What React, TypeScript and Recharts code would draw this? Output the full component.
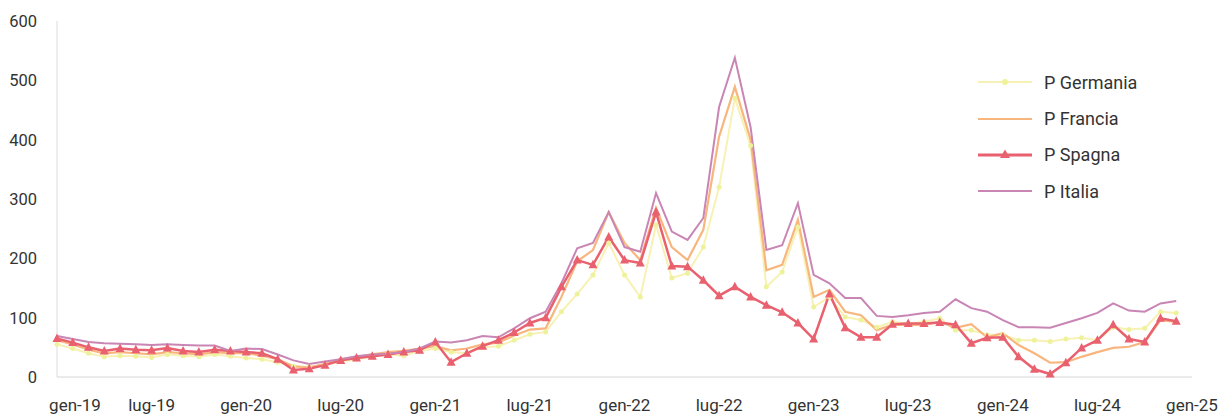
import { Line, LineChart, XAxis, YAxis } from "recharts"

const months = [
  "gen-19", "feb-19", "mar-19", "apr-19", "mag-19", "giu-19", "lug-19", "ago-19", "set-19", "ott-19", "nov-19", "dic-19",
  "gen-20", "feb-20", "mar-20", "apr-20", "mag-20", "giu-20", "lug-20", "ago-20", "set-20", "ott-20", "nov-20", "dic-20",
  "gen-21", "feb-21", "mar-21", "apr-21", "mag-21", "giu-21", "lug-21", "ago-21", "set-21", "ott-21", "nov-21", "dic-21",
  "gen-22", "feb-22", "mar-22", "apr-22", "mag-22", "giu-22", "lug-22", "ago-22", "set-22", "ott-22", "nov-22", "dic-22",
  "gen-23", "feb-23", "mar-23", "apr-23", "mag-23", "giu-23", "lug-23", "ago-23", "set-23", "ott-23", "nov-23", "dic-23",
  "gen-24", "feb-24", "mar-24", "apr-24", "mag-24", "giu-24", "lug-24", "ago-24", "set-24", "ott-24", "nov-24", "dic-24",
  "gen-25",
]

const germania = [
  55, 48, 40, 34, 36, 35, 33, 38, 36, 34, 38, 35,
  32, 30, 25, 18, 17, 20, 26, 30, 34, 38, 36, 44,
  48, 42, 40, 50, 52, 62, 72, 76, 110, 140, 172, 226,
  172, 135, 256, 167, 175, 219, 320, 470, 390, 152, 177, 253,
  118, 135, 101, 96, 84, 93, 90, 93, 99, 79, 79, 71,
  71, 62, 62, 60, 64, 66, 62, 84, 80, 82, 110, 108,
  null,
]

const francia = [
  62, 55, 46, 40, 42, 40, 38, 42, 40, 38, 42, 40,
  40, 36, 30, 18, 16, 22, 30, 34, 38, 42, 44, 48,
  52, 45, 48, 55, 58, 70, 80, 82, 135, 195, 214, 278,
  226, 197, 285, 219, 197, 248, 405, 489, 400, 180, 189, 265,
  135, 147, 110, 104, 79, 88, 88, 88, 93, 83, 89, 67,
  74, 54, 40, 24, 25, 34, 42, 49, 51, 59, 96, 93,
  null,
]

const spagna = [
  65, 58, 50, 44, 48, 46, 45, 49, 44, 42, 46, 44,
  42, 40, 30, 12, 14, 20, 28, 32, 35, 38, 42, 45,
  59, 25, 40, 52, 62, 75, 91, 100, 152, 197, 189, 236,
  197, 192, 278, 187, 186, 163, 137, 152, 135, 121, 109, 91,
  64, 140, 83, 67, 67, 89, 90, 90, 92, 88, 57, 66,
  67, 34, 13, 5, 24, 49, 62, 88, 64, 59, 99, 94,
  null,
]

const italia = [
  69, 64, 59, 57, 56, 55, 54, 55, 54, 53, 53, 44,
  48, 47, 38, 28, 22, 26, 30, 35, 38, 39, 42, 48,
  60, 58, 62, 69, 67, 82, 99, 110, 158, 217, 226, 278,
  219, 211, 310, 245, 231, 268, 455, 538, 421, 214, 222, 293,
  172, 158, 133, 133, 103, 101, 104, 108, 110, 131, 116, 110,
  96, 84, 84, 83, 91, 99, 108, 124, 112, 110, 124, 128,
  null,
]

const yTicks = [0, 100, 200, 300, 400, 500, 600]

const data = months.map((m, i) => ({
  month: m,
  germania: germania[i],
  francia: francia[i],
  spagna: spagna[i],
  italia: italia[i],
}))

const C_GER = "#f8f1b4"
const C_GER_DOT = "#eef29a"
const C_FRA = "#f8b67e"
const C_SPA = "#e9606f"
const C_ITA = "#c985b4"

const font = "Roboto, 'Noto Sans', sans-serif"

const Triangle = (props: any) => {
  const { cx, cy } = props
  if (cx == null || cy == null || props.value == null) return null
  return <path d={`M${cx},${cy - 5} L${cx + 4.5},${cy + 3.5} L${cx - 4.5},${cy + 3.5} Z`} fill={C_SPA} />
}

const XTick = (props: any) => {
  const { x, y, payload } = props
  const dx = payload.index === 0 ? 18 : 0
  return (
    <text x={x + dx} y={y} dy="0.71em" textAnchor="middle" fill="#333" fontSize={17} fontFamily={font}>
      {payload.value}
    </text>
  )
}

const legendItems = [
  { name: "P Germania", color: C_GER, marker: "dot" },
  { name: "P Francia", color: C_FRA, marker: "" },
  { name: "P Spagna", color: C_SPA, marker: "tri" },
  { name: "P Italia", color: C_ITA, marker: "" },
]

// legend sits in its own box so it doesn't eat plot height
const LegendBox = () => (
  <div style={{ position: "absolute", left: 977, top: 64, fontFamily: font, fontSize: 18, color: "#333" }}>
    {legendItems.map((it) => (
      <div key={it.name} style={{ display: "flex", alignItems: "center", height: 36.4 }}>
        <svg width={56} height={14} style={{ marginRight: 11 }}>
          <line x1={1} y1={7} x2={55} y2={7} stroke={it.color} strokeWidth={it.marker === "tri" ? 3 : 2} />
          {it.marker === "dot" && <circle cx={28} cy={7} r={3} fill={C_GER_DOT} />}
          {it.marker === "tri" && <path d="M28,1.5 L33,10 L23,10 Z" fill={C_SPA} />}
        </svg>
        <span>{it.name}</span>
      </div>
    ))}
  </div>
)

export default function App() {
  return (
    <div style={{ position: "absolute", left: 0, top: 0, width: 1220, height: 418, background: "#fff" }}>
      <LineChart width={1220} height={418} data={data} margin={{ top: 21, right: 28, bottom: 0, left: 0 }}>
        <XAxis
          dataKey="month"
          interval={5}
          tick={<XTick />}
          tickLine={false}
          tickMargin={16}
          height={41}
          axisLine={{ stroke: "#d6d6d6" }}
        />
        <YAxis
          domain={[0, 600]}
          ticks={yTicks}
          width={57}
          tickLine={false}
          tickMargin={14}
          axisLine={{ stroke: "#dcdcdc" }}
          tick={{ fill: "#333", fontSize: 16.5, fontFamily: font }}
        />
        <Line
          dataKey="germania"
          name="P Germania"
          stroke={C_GER}
          strokeWidth={2}
          dot={{ r: 2.5, fill: C_GER_DOT, stroke: "none" }}
          isAnimationActive={false}
        />
        <Line dataKey="francia" name="P Francia" stroke={C_FRA} strokeWidth={2.2} dot={false} isAnimationActive={false} />
        <Line
          dataKey="spagna"
          name="P Spagna"
          stroke={C_SPA}
          strokeWidth={2.5}
          dot={<Triangle />}
          isAnimationActive={false}
        />
        <Line dataKey="italia" name="P Italia" stroke={C_ITA} strokeWidth={2} dot={false} isAnimationActive={false} />
      </LineChart>
      <LegendBox />
    </div>
  )
}
